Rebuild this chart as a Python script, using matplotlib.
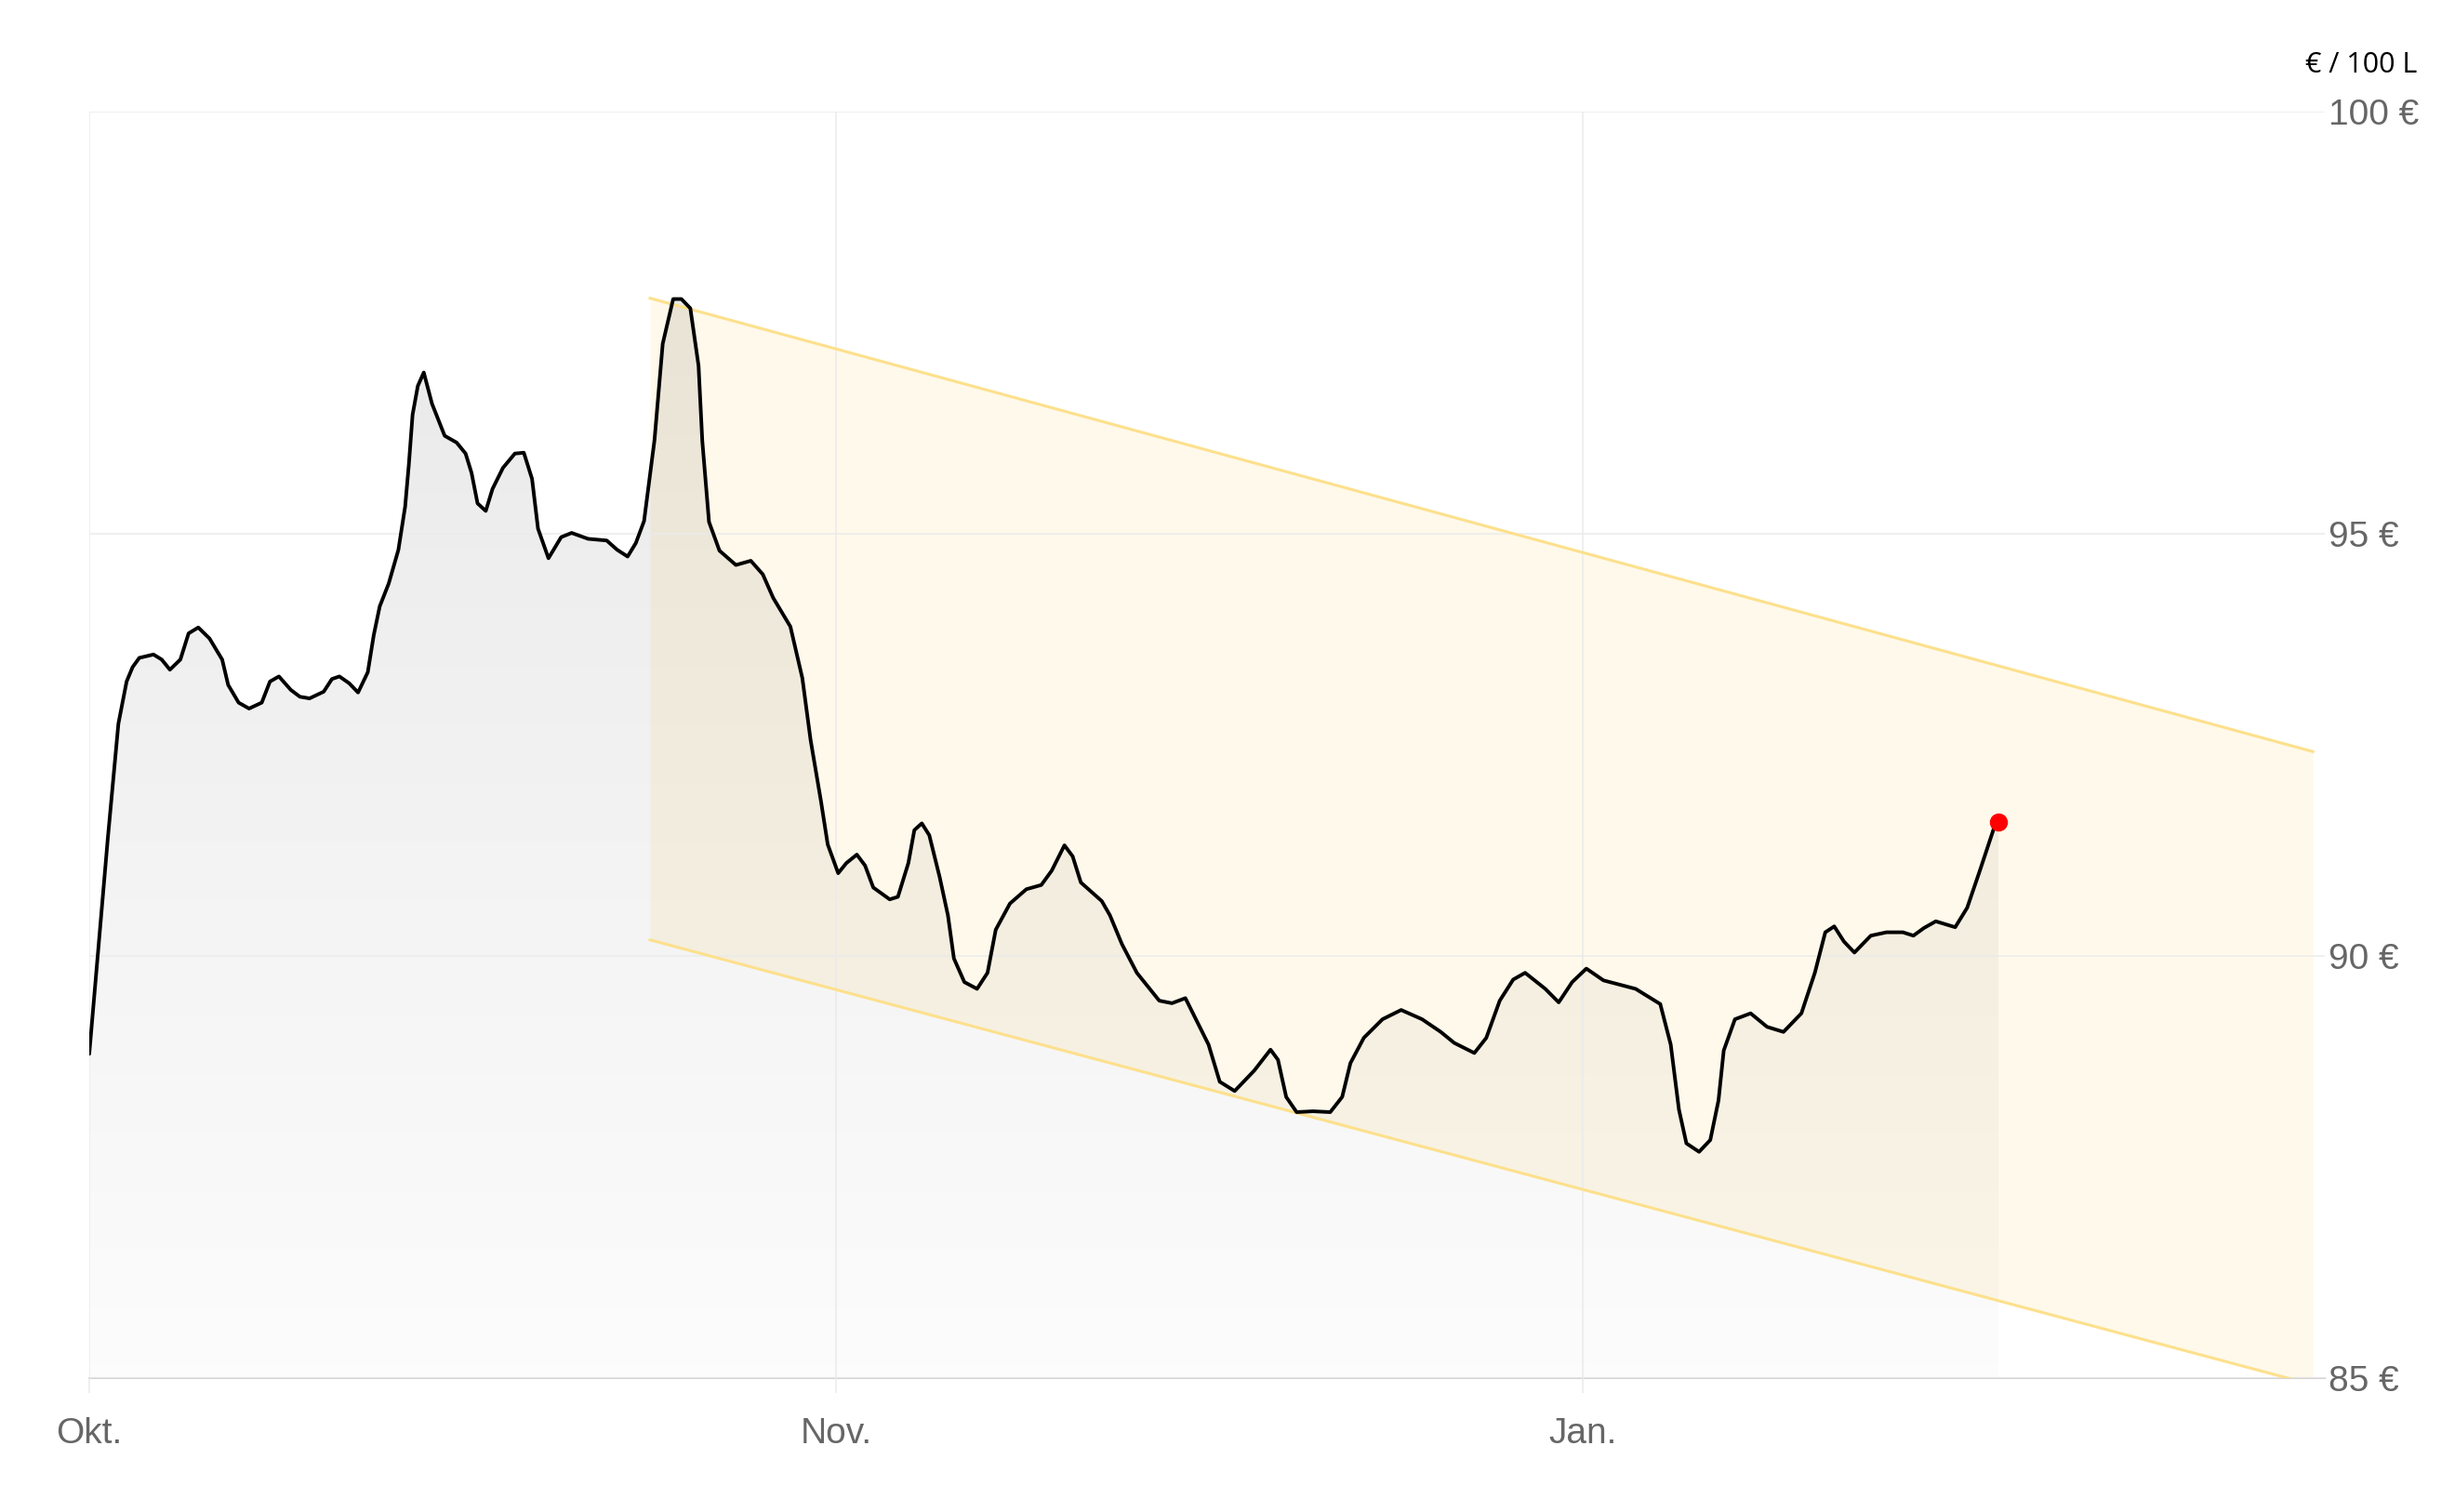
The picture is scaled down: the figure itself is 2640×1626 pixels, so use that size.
import numpy as np
import matplotlib.pyplot as plt

plt.rcParams['font.family'] = ['Liberation Sans', 'DejaVu Sans']

# x position on the month scale (Okt. = 0, Nov. = 1, Jan. = 2) and price in € / 100 L
pos = [0.000, 0.025, 0.039, 0.050, 0.058, 0.067, 0.086, 0.097, 0.108, 0.122,
       0.133, 0.146, 0.161, 0.178, 0.186, 0.200, 0.214, 0.231, 0.242, 0.254,
       0.270, 0.282, 0.295, 0.314, 0.325, 0.335, 0.348, 0.360, 0.373, 0.381,
       0.389, 0.401, 0.414, 0.423, 0.428, 0.433, 0.440, 0.448, 0.459, 0.476,
       0.492, 0.504, 0.512, 0.520, 0.531, 0.540, 0.554, 0.570, 0.582, 0.593,
       0.601, 0.615, 0.632, 0.646, 0.668, 0.693, 0.707, 0.721, 0.732, 0.743,
       0.757, 0.768, 0.782, 0.793, 0.805, 0.816, 0.821, 0.830, 0.844, 0.866,
       0.886, 0.902, 0.916, 0.939, 0.955, 0.966, 0.980, 0.989, 1.003, 1.014,
       1.028, 1.039, 1.050, 1.072, 1.083, 1.097, 1.105, 1.115, 1.125, 1.139,
       1.150, 1.158, 1.172, 1.189, 1.203, 1.214, 1.233, 1.255, 1.275, 1.289,
       1.306, 1.317, 1.328, 1.356, 1.367, 1.383, 1.403, 1.433, 1.450, 1.468,
       1.499, 1.514, 1.534, 1.560, 1.582, 1.592, 1.603, 1.617, 1.639, 1.662,
       1.678, 1.689, 1.707, 1.732, 1.757, 1.785, 1.810, 1.828, 1.855, 1.871,
       1.889, 1.907, 1.923, 1.950, 1.968, 1.986, 2.005, 2.028, 2.071, 2.104,
       2.118, 2.129, 2.139, 2.156, 2.171, 2.182, 2.189, 2.204, 2.225, 2.247,
       2.269, 2.293, 2.311, 2.325, 2.337, 2.350, 2.364, 2.386, 2.407, 2.429,
       2.443, 2.457, 2.473, 2.499, 2.515, 2.532, 2.550, 2.557]
price = [88.84, 91.41, 92.75, 93.25, 93.42, 93.53, 93.57, 93.51, 93.39, 93.51,
         93.82, 93.89, 93.76, 93.51, 93.21, 93.00, 92.93, 93.00, 93.25, 93.31,
         93.15, 93.07, 93.05, 93.13, 93.28, 93.31, 93.23, 93.12, 93.36, 93.80,
         94.14, 94.41, 94.81, 95.32, 95.82, 96.41, 96.75, 96.91, 96.54, 96.16,
         96.08, 95.95, 95.72, 95.36, 95.27, 95.53, 95.78, 95.95, 95.96, 95.65,
         95.06, 94.71, 94.96, 95.01, 94.94, 94.92, 94.81, 94.73, 94.89, 95.15,
         96.11, 97.25, 97.78, 97.78, 97.67, 96.99, 96.10, 95.14, 94.80, 94.63,
         94.68, 94.52, 94.24, 93.90, 93.29, 92.56, 91.83, 91.32, 90.98, 91.10,
         91.20, 91.07, 90.81, 90.67, 90.70, 91.10, 91.49, 91.57, 91.43, 90.93,
         90.48, 89.97, 89.69, 89.61, 89.80, 90.31, 90.62, 90.79, 90.84, 91.01,
         91.31, 91.18, 90.87, 90.65, 90.48, 90.14, 89.80, 89.47, 89.44, 89.50,
         88.95, 88.51, 88.40, 88.64, 88.89, 88.77, 88.33, 88.15, 88.16, 88.15,
         88.33, 88.73, 89.03, 89.25, 89.36, 89.25, 89.10, 88.97, 88.85, 89.03,
         89.47, 89.72, 89.80, 89.61, 89.45, 89.69, 89.85, 89.71, 89.61, 89.43,
         88.95, 88.18, 87.78, 87.68, 87.82, 88.29, 88.88, 89.25, 89.32, 89.16,
         89.10, 89.32, 89.80, 90.28, 90.35, 90.17, 90.04, 90.24, 90.28, 90.28,
         90.24, 90.33, 90.41, 90.34, 90.57, 91.01, 91.49, 91.59]

tick_pos = [0, 1, 2]
tick_labels = ['Okt.', 'Nov.', 'Jan.']
y_ticks = [85, 90, 95, 100]
y_labels = ['85 €', '90 €', '95 €', '100 €']

# trend channel
channel_x = [0.751, 2.978]
channel_upper = [97.79, 92.42]
channel_lower = [90.19, 84.92]

x_max = 2.994
y_min, y_max = 85, 100

fig = plt.figure(figsize=(26.4, 16.26), dpi=100)
ax = fig.add_axes([96 / 2640, 1 - 1482 / 1626, (2500 - 96) / 2640, (1482 - 120) / 1626])

# channel
ax.fill_between(channel_x, channel_lower, channel_upper, color='#fef9ea', lw=0, zorder=1)
ax.plot(channel_x, channel_upper, color='#fde08c', lw=2.2, zorder=2.6)
ax.plot(channel_x, channel_lower, color='#fde08c', lw=2.2, zorder=2.6)

# grey gradient under the price line
area = ax.fill_between(pos, price, y_min, color='none', lw=0)
rgba = np.zeros((256, 1, 4))
rgba[:, 0, 3] = np.linspace(0.015, 0.10, 256)
img = ax.imshow(rgba, extent=[0, x_max, y_min, y_max], origin='lower',
                aspect='auto', zorder=1.5, interpolation='bilinear')
img.set_clip_path(area.get_paths()[0], transform=ax.transData)

# price line + last point
ax.plot(pos, price, color='black', lw=2.8, zorder=3,
        solid_joinstyle='round', solid_capstyle='round')
ax.plot(pos[-1], price[-1], 'o', color='red', ms=13, zorder=4, clip_on=False)

ax.set_xlim(0, x_max)
ax.set_ylim(y_min, y_max)

ax.set_xticks(tick_pos)
ax.set_xticklabels(tick_labels)
ax.set_yticks(y_ticks)
ax.set_yticklabels(y_labels)
ax.yaxis.tick_right()

ax.grid(True, color='#ebebeb', lw=1.1)
ax.set_axisbelow(False)
ax.tick_params(axis='y', length=0, pad=3, labelsize=28, labelcolor='#666666')
ax.tick_params(axis='x', length=11.5, width=1.1, color='#ebebeb', pad=19,
               labelsize=28, labelcolor='#666666')

for side in ['top', 'left', 'right']:
    ax.spines[side].set_visible(False)
ax.spines['bottom'].set_color('#d4d4d4')
ax.spines['bottom'].set_linewidth(1.5)

fig.text(2599 / 2640, 1 - 70 / 1626, '€ / 100 L', ha='right', va='center',
         fontsize=22, family=['Open Sans', 'DejaVu Sans'], color='black')

fig.savefig('out.png', dpi=100)
